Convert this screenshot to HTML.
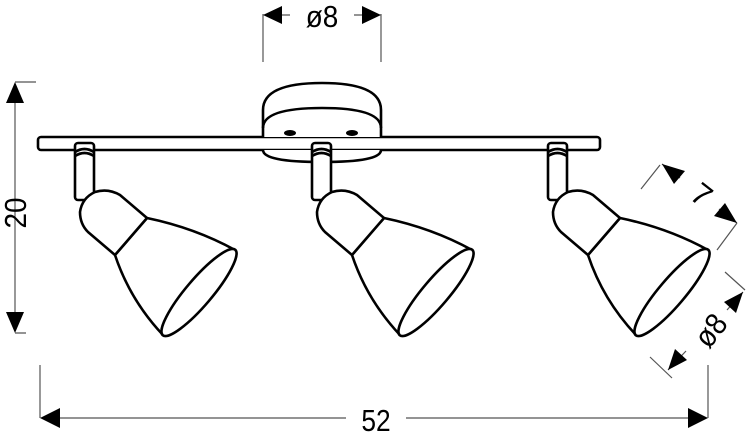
<!DOCTYPE html>
<html><head><meta charset="utf-8"><style>html,body{margin:0;padding:0;background:#fff}svg{display:block}</style></head>
<body>
<svg width="750" height="441" viewBox="0 0 750 441" xmlns="http://www.w3.org/2000/svg" font-family="Liberation Sans, sans-serif">
<defs>
<g id="lamp" fill="#fff" stroke="#000" stroke-width="2.6" stroke-linejoin="round">
  <rect x="75" y="143" width="19" height="57" rx="3"/>
  <path d="M75,152 Q84.5,146 94,152 M75,156 Q84.5,150 94,156" fill="none"/>
  <path d="M147,218 Q195,228 235,250 L163,335 Q130,300 115,255 Z"/>
  <path d="M147,218 L120,195 Q108,188 95,192 Q82,198 80,212 Q80,224 88,232 L115,255 Z"/>
  <ellipse cx="199" cy="292.5" rx="56" ry="13" transform="rotate(-49.7 199 292.5)"/>
</g>
</defs>
<rect x="38" y="137" width="562" height="13" rx="3" fill="#fff" stroke="#000" stroke-width="2.6"/>
<path d="M263,137 V110 Q263,83 322,83 Q381,83 381,110 V137" fill="#fff" stroke="#000" stroke-width="2.6"/>
<path d="M263,128 Q263,108 322,108 Q381,108 381,128" fill="none" stroke="#000" stroke-width="2.6"/>
<path d="M263,150 Q263,162 322,162 Q381,162 381,150" fill="#fff" stroke="#000" stroke-width="2.6"/>
<ellipse cx="290" cy="133" rx="6" ry="3" fill="#000"/>
<ellipse cx="352" cy="133" rx="6" ry="3" fill="#000"/>
<use href="#lamp"/>
<use href="#lamp" transform="translate(237,0)"/>
<use href="#lamp" transform="translate(473,0)"/>
<g stroke="#555" stroke-width="1.2" fill="none">
  <path d="M263,14 V62 M381,14 V62 M276,15 H290 M354,15 H368"/>
  <path d="M15,84 V331 M15,82 H36 M15,333 H26"/>
  <path d="M40,365 V418 M708,365 V418 M58,418 H346 M406,418 H690"/>
  <path d="M641,189 L660,165 M717,250 L737,223 M662,164 L680,178 M719,209 L737,223"/>
  <path d="M725,272 L745,290 M650,357 L672,378 M668,370 L686,351 M727,310 L743,292"/>
</g>
<g fill="#000">
  <path d="M263,15 L282,6 L282,24 Z M381,15 L362,6 L362,24 Z"/>
  <path d="M15,82 L6,103 L24,103 Z M15,333 L6,312 L24,312 Z"/>
  <path d="M40,418 L60,408 L60,428 Z M708,418 L688,408 L688,428 Z"/>
  <path d="M662,164 L685,171 L674,184 Z M737,223 L714,216 L725,203 Z"/>
  <path d="M743,292 L736,313 L724,302 Z M668,370 L675,349 L687,360 Z"/>
</g>
<g font-size="31" fill="#000" text-anchor="middle">
  <text transform="translate(322,27) scale(0.9,1)">ø8</text>
  <text transform="translate(376,431) scale(0.85,1)">52</text>
  <text transform="translate(26,213) rotate(-90) scale(0.9,1)">20</text>
  <text transform="translate(695,203) rotate(38)">7</text>
  <text transform="translate(719,337) rotate(-52) scale(0.9,1)">ø8</text>
</g>
</svg>
</body></html>
